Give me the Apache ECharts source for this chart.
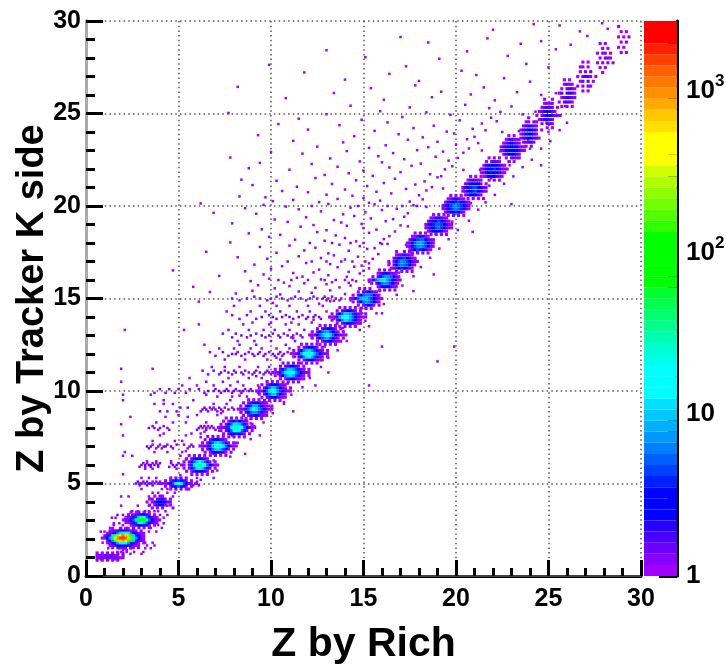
<!DOCTYPE html>
<html><head><meta charset="utf-8">
<style>html,body{margin:0;background:#fff}#c{width:726px;height:669px;filter:blur(0.45px)}</style>
<script src="https://cdn.jsdelivr.net/npm/echarts@6/dist/echarts.min.js"></script></head>
<body><div id="c"></div>
<script>
const xTitle = "Z by Rich";
const yTitle = "Z by Tracker K side";
const paletteBands = ["#a000ff","#8800ff","#6c00ff","#4800ff","#2800ff","#0000ff","#0000ff","#0000ff","#0020ff","#0040ff",
"#0060ff","#0080ff","#0098ff","#00b0ff","#00c8ff","#00e0ff","#00ffff","#00ffff","#00ffff","#00ffe8",
"#00ffd0","#00ffb0","#00ff90","#00ff70","#00ff50","#00ff30","#00ff00","#00ff00","#00ff00","#00ff00",
"#00ff00","#30ff00","#50ff00","#70ff00","#90ff00","#b0ff00","#d0ff00","#ffff00","#ffff00","#ffff00",
"#ffe000","#ffc800","#ffaa00","#ff9000","#ff7800","#ff6000","#ff4000","#ff2000","#ff0000","#ff0000"];
const colorMajorTicks = [1,10,100,1000];
const colorMinorTicks = [2,3,4,5,6,7,8,9,20,30,40,50,60,70,80,90,200,300,400,500,600,700,800,900,2000];
const levelChars = "123456789abcdefghijklmnopqrstuvwxyzABCDEFGHIJKLMNO";

// Peak centres on the diagonal
const peakX = [1.3,2,3,4,5,6,7,8,9,10,11,12,13,14,15,16,17,18,19,20,21,22,23,24,25,26,27,28,29];
const peakY = [1.05,2.05,3.03,4,5,6,7.03,8.03,9.02,10,11,12.02,13.03,14,15,16,17,18,19,20.03,21,22,23.1,24,25,26.1,27,28,29];
// Vertical bin height of each peak's cells
const peakBinY = [.13,.13,.14,.16,.15,.17,.17,.17,.17,.17,.17,.17,.17,.17,.18,.18,.18,.18,.18,.18,.2,.2,.2,.22,.22,.24,.26,.26,.28];
// Density cells for each peak (0.14 unit wide bins), one level character per cell, "." is empty
const peakCells = [
["1.1.2.1.1.1","121322312.2","12324323211","1.1.1.1.1.."],
["....1..2.11.2....","...12244543221.1.","..1248cgiihc74211",".149gnyFJFzqg9521","127dqCILLKGxnd731","..16cnzFHEwpf9421","..1259ejjid8531.1","...124688764211..","....1.3221.21.1.."],
["...1.12.2.1....","..1.1347642.1..",".1136aghhb6321.","1236bnrssnb6321",".1136aghfa6421.","...12457542.1..","....1.2.2.1...."],
["...1.21....",".12.3442.1.","1.14788632.",".1.24652.1.","..1.1.2...1"],
["....1.2.3.1....","..1.246a742.1..","1.136bhkhb631.1","..1.258b852.1..","....1.3.2.11..."],
[".....1.1.2.1.....","....1.3578531....","...1.27bfhfb52.1.","..11.39gknlhb6311","...1.26bghfa53.1.","....1.2468642.1..","......1.2.1.1...."],
[".....1.2.1.1.....","....1.3578431....","...1.37bfgeb52.1.","..11249fjkigb6311","...1.36bfgda52.1.","....1.2578541.1..","......1.2.1.1...."],
[".....1.2.1.1.....","....1.246a7431...","...1.37bggfb52.1.","..12249gkmkhb6311","...1.37bhihb52.1.","....1.3689641.1..","......1.2.1.1...."],
["......1.1.1.....","....1.24675321..","...1.36aeea531.1","..1229bfhgca6311","...1.37bdca531..","....1.24564211..",".....1.1.2.1...."],
["......1.1.1.....","....1.24775321..","...1.37bfea631.1","..1228bgihda6311","...1.37bffa631..","....1.34674211..",".....1.1.2.1...."],
["......1.2.1.1.....",".....1.346742.1...","...1.37bffda531.1.","..1129cgjjhda7421.","...1.38cfgea531.1.",".....1.24664211...","......1.2.1.1....."],
["......1.2.1.1.....",".....1.346742.1...","...1.37cfgda531.1.","..1129dhkljeb7421.","...1.38cghea531.1.",".....1.24674211...","......1.2.1.1....."],
["......1.2.1.1.....",".....1.346742.1...","...1.27bdea731.1..","..1128beghfb84211.","...1.27adea731.1..",".....1.24574211...","......1.2.1.1....."],
["......1.2.1.1....",".....1.346742.1..","...1.37bffda531.1","..1129dhjjeb74211","...1.38cgfda531..",".....1.24674211..","......1.2.1.1...."],
["......1.2.1.....",".....1.346421..","...1.37accb631.","..129beffca7421","...1.38bdca631.",".....1.24642.1.","......1.2.1...."],
["......1.2.1....",".....13564231.","...1.38bddb731","..129cfggdb7421","...1.37bdca631.",".....14676421.","......1.1.2.1.."],
[".....1..2.1...",".....1234321..","....2479a7521.","..1.37bdca7421","..1.38bcba631.","...124796531..",".....1.2.1.1.."],
[".....1.2.1....","....1245421...","...247abb7421.","..137bdeca742.","..136acdca631.","...246a97421..","....1.2.2.1..."],
[".....1.2.1....","....1245321...","...2578a8521..","..1469bba7421.","..1368ab96321.","...14687521...","....1.2.1.1..."],
["....1.2.1....","...1245321...","..25789a7531.",".147acdba642.",".1369bcb9531.","..14689741...","...1.2.2.1..."],
["....1.1.1...","...134321...","..2467862.1.",".1469aa7532.",".13689a8421.","..1467632...","...1.2.1.1.."],
["....1.1.1...","...1.3431...","..146786421.",".13678975321",".1367887421.","..13676421..","....1.2.1..."],
["....1.1....","...134221..","..1356431..",".1467876321",".1367886421","..1467642..","...1.3321..","....1.1...."],
["....1.....","...12.21..","..145431..",".1456652.1",".1367741..",".14566431.","..13442...","...1.2...."],
["...1..1...","...1221...","..13442.1.",".1356531..","1.24664321",".135542...","..1.331...","....1.1..."],
["...1.1...","...2321..","..1.3431.",".14.4541.","..135432.",".1.3431..","..1.2.1.."],
["...1.1...","..12.1...","..1.2.3..",".1.3432.1","..13.3.1.",".1.2.31..","...1.1..."],
["..1.1...","...2.1..",".1.22.1.","..1.321.",".1.2.2.1","..1.1...","...1...."],
["..1.....","...1.1..","..1.1.2.","...1.2..","..1.1...","...1.1.."]
];
// Horizontal streaks, each row: y, level, then the x values of the cells in that row
const streakRows = [
[1.3,1,1.7,2.2,2.6,3.1,1.9],[1.5,1,1.2,1.8,2.1,2.4,3.2,3.5],[1.4,2,2.0,2.2],[1.65,1,1.3,2.7,3.3,3.7],[0.9,1,0.8,1.2,1.6],[2.6,1,3.5,4.1,1.3,1.9,2.2],[2.75,1,1.5,2.0,2.5,3.9],[1.8,1,0.9,3.2,3.6],[1.2,1,2.4,3.0],[2.4,1,0.8,1.0,3.4,3.8],
[3.5,1,3.2,3.4,3.7,3.9,4.3,2.5,2.8],[3.3,2,1.7,2.0,2.3,2.5,4.0,4.4],[3.15,1,1.4,1.6,4.2],[2.85,1,1.5,1.8,3.8,4.2],[3.8,1,2.8,3.4,4.4,1.9],[4.3,1,1.9,2.3,3.4,4.7],[4.5,1,3.6,3.9,4.4,4.8],
[5.0,3,2.7,2.9,3.0,3.2,3.4,3.5,3.7,3.9,4.1,4.2,5.9],[5.1,2,2.8,3.1,3.3,3.6,3.8,4.0,6.0],[4.9,2,2.9,3.3,3.6,4.3,5.8,6.1],[5.3,1,3.0,3.4,3.8,6.0],[4.7,1,3.0,4.1,4.4],[5.5,1,2.0],
[6.0,3,3.0,3.2,3.4,3.5,3.7,3.9,4.7,4.9],[6.1,2,3.1,3.3,3.6,3.8,4.0,4.6,5.0],[5.9,2,2.9,3.2,3.5,3.9,4.5,4.8],[6.2,1,3.3,3.8,4.6],[5.8,1,3.2,3.6,4.9],[6.5,1,2.0,2.5,5.1],
[7.0,3,3.3,3.5,3.9,4.2,4.3,4.6,5.6,5.8],[7.1,2,3.6,4.0,4.4,4.9,5.3,5.7],[6.9,2,3.4,3.8,4.1,4.7,5.5],[7.3,1,3.6,4.8,5.2],[6.7,1,2.1,3.7,4.4,5.2],[7.6,1,2.0,4.0,5.4],
[8.0,2,3.4,3.7,4.0,4.4,6.1,6.3,6.5,6.7,6.9],[8.1,2,3.6,4.2,6.2,6.4,6.6,6.8],[7.9,2,3.9,4.5,6.0,6.5,7.0],[8.3,1,3.8,4.7,5.4,6.5],[7.7,1,4.2,5.7,6.2],[8.2,1,1.9],[8.6,1,2.4,4.3,5.5],[6.3,1,5.4],
[9.0,3,6.3,6.5,6.8,7.0,7.3,7.7,8.0],[9.1,2,5.1,5.5,6.4,6.7,6.9,7.2,7.5,7.9],[8.9,2,4.0,4.4,4.9,6.2,6.6,7.1,7.4],[9.3,1,3.7,4.2,4.7,6.9,7.6],[8.7,1,5.0,6.0,7.1],[9.5,1,2.0,4.2,5.8,7.8],[9.8,1,2.0,3.5,6.5],
[10.0,3,6.6,6.9,7.2,7.5,7.7,8.0,8.3,8.5,8.8,9.0],[10.1,2,4.0,4.5,5.0,5.6,6.1,7.0,7.6,8.1,8.6,8.9],[9.9,2,3.7,4.3,4.8,5.4,6.4,7.3,7.9,8.4],[10.3,1,5.2,6.0,6.9,7.8,8.5,9.3],[9.7,1,7.1,7.9,8.7],[10.5,1,1.9,6.5,7.4,8.2],
[11.0,3,7.3,7.7,8.1,8.4,8.8,9.1,9.4,9.7,9.9],[11.1,2,6.3,6.9,7.5,8.0,8.6,9.2,9.8],[10.9,2,6.6,7.2,7.9,8.5,9.0,9.6,10.0],[11.3,1,6.8,7.5,8.3,9.3,9.9],[10.7,1,5.6,7.7,8.8,9.5],[11.2,1,1.9,3.6],
[12.0,3,7.9,8.1,8.6,9.0,9.3,9.7,10.1,10.4,10.7],[12.1,2,6.7,7.4,8.2,8.8,9.4,9.9,10.5,10.9],[11.9,2,7.0,7.7,8.4,9.1,9.6,10.2,10.6],[12.3,1,7.2,8.0,8.9,9.5,10.3,11.0],[11.7,1,7.5,8.6,9.8,10.5],[12.5,1,6.4,8.3,9.2,10.8],
[13.0,3,8.4,8.9,9.5,9.9,10.4,10.9,11.2,11.6],[13.1,2,7.4,8.1,9.2,10.1,10.7,11.4],[12.9,2,7.9,8.7,9.7,10.5,11.1,11.7],[13.3,1,2.1,5.3,7.7,8.8,9.6,10.2,11.0,11.8],[12.7,1,8.2,9.1,10.0,11.3],[13.6,1,6.1,8.5,9.9,10.8,11.5],
[14.0,3,9.5,10.1,10.6,11.0,11.5,12.0,12.3,12.6],[14.1,2,7.9,8.7,9.9,10.8,11.7,12.4],[13.9,2,8.3,9.2,10.3,11.2,11.9,12.7],[14.3,1,7.6,8.9,9.7,10.5,11.4,12.1,13.0],[13.7,1,9.0,10.0,11.1,12.2],[14.6,1,8.0,9.4,10.3,11.0,12.0,12.8],
[15.0,2,7.9,8.7,9.4,10.0,10.6,11.1,11.6,12.1,12.5,12.8,13.1,13.5,13.8],[15.1,2,9.1,10.3,11.3,12.3,12.9,13.3],[14.9,1,8.3,9.8,10.9,11.9,13.0,13.7],[16.0,2,10.4,11.1,12.0,12.9,13.5,14.0,14.4],[17.0,2,10.9,12.2,13.0,13.8,14.4,15.1],[18.0,2,12.1,13.3,14.3,15.0,15.9],[20.0,2,12.2,14.7,16.3,17.1,17.9]
];
// Single cells of the fan above the diagonal and strays below it: x, y pairs
const fanPoints = [
6.7,15.35, 8.1,15.27, 9.0,15.42, 10.5,15.22, 11.5,15.38, 12.2,15.31, 13.2,15.44, 14.0,15.24, 6.1,14.83, 10.1,14.76, 12.6,14.72, 13.4,14.88,
5.8,15.63, 9.3,15.72, 10.2,15.55, 11.0,15.67, 11.8,15.82, 12.4,15.58, 13.0,15.77, 13.7,15.6, 14.3,15.7, 8.9,15.94, 9.9,16.07, 10.7,15.86, 11.4,16.12, 12.7,16.03, 13.3,15.88, 14.1,16.17, 14.6,15.93,
7.2,16.22, 9.6,16.3, 11.7,16.18, 12.3,16.41, 13.1,16.26, 14.2,16.44, 14.8,16.35, 4.7,16.52, 8.6,16.47, 10.0,16.61, 11.2,16.38, 12.6,16.56, 13.6,16.69, 14.5,16.72, 15.0,16.5, 15.3,16.63,
9.1,16.83, 10.6,16.75, 11.9,16.92, 13.2,16.86, 14.0,17.11, 14.9,16.78, 8.2,17.23, 9.8,17.15, 11.5,17.28, 12.7,17.19, 13.4,17.33, 14.7,17.26, 15.5,17.14, 15.8,17.4, 6.5,17.52, 10.3,17.47, 11.8,17.6, 13.1,17.44,
14.2,17.58, 15.2,17.68, 9.4,17.79, 11.0,17.86, 12.4,17.74, 13.7,17.91, 14.8,17.83, 15.6,17.72, 16.0,17.95, 7.8,18.03, 11.3,18.18, 12.9,18.12, 14.0,18.27, 14.6,18.09, 16.1,18.21, 16.4,18.37,
9.9,18.33, 8.8,18.52, 10.5,18.44, 12.5,18.59, 13.5,18.41, 15.3,18.55, 16.7,18.62, 9.5,18.74, 11.6,18.88, 13.0,18.69, 14.1,18.93, 15.0,18.81, 15.7,18.72, 7.9,19.06, 10.9,19.14, 12.3,18.97, 13.8,19.11, 14.9,19.03, 16.2,19.18, 17.0,18.95,
10.2,19.27, 11.9,19.39, 13.4,19.24, 14.5,19.46, 15.4,19.33, 16.6,19.29, 17.2,19.42, 6.9,19.63, 9.2,19.58, 12.7,19.71, 13.9,19.55, 15.1,19.66, 16.0,19.78, 17.4,19.61, 8.6,19.88, 10.8,19.97, 11.5,19.82, 14.3,19.91, 15.6,20.09, 16.8,19.85, 17.7,20.04,
6.2,20.14, 9.6,20.06, 13.1,20.11, 15.3,20.17, 10.1,20.26, 11.2,20.33, 12.6,20.21, 13.6,20.38, 15.9,20.29, 17.5,20.24, 18.2,20.36, 8.3,20.52, 9.7,20.47, 13.0,20.61, 14.4,20.55, 15.0,20.43, 16.5,20.68, 18.0,20.58,
10.6,20.81, 12.0,20.74, 14.0,20.89, 15.7,20.77, 17.3,20.92, 18.4,20.84, 9.0,21.13, 11.4,21.04, 13.3,21.19, 15.2,21.08, 16.1,21.24, 17.8,21.16, 18.7,21.02, 8.4,21.42, 10.3,21.36, 12.4,21.51, 14.6,21.39, 16.7,21.47, 18.3,21.33, 19.0,21.55,
12.9,21.68, 14.2,21.77, 15.5,21.63, 17.0,21.83, 18.6,21.72, 19.2,21.61, 8.8,22.04, 11.0,21.96, 13.6,22.12, 15.0,21.91, 16.4,22.08, 17.6,22.17, 19.4,21.98, 19.8,22.15, 9.4,22.33, 12.2,22.27, 14.8,22.41, 16.0,22.36, 18.1,22.29, 19.6,22.45,
7.8,22.62, 13.2,22.57, 15.8,22.69, 17.2,22.53, 18.9,22.66, 20.1,22.6, 10.0,22.91, 11.7,22.83, 14.1,22.97, 16.6,22.86, 17.9,23.02, 19.3,22.94, 20.4,22.88, 12.5,23.21, 15.3,23.14, 16.2,23.28, 18.5,23.18, 20.0,23.31, 20.7,23.11,
11.2,23.52, 13.9,23.44, 17.4,23.58, 19.0,23.47, 20.6,23.61, 21.2,23.4, 9.3,23.83, 14.5,23.77, 16.9,23.88, 18.2,23.71, 19.9,23.92, 21.0,23.74, 12.0,24.13, 15.6,24.06, 17.7,24.21, 19.5,24.02, 20.9,24.17, 21.6,24.09,
10.4,24.43, 13.7,24.37, 16.3,24.52, 18.8,24.34, 21.4,24.46, 11.5,24.72, 14.9,24.66, 17.1,24.81, 20.2,24.63, 21.9,24.77, 22.2,24.58, 7.7,25.03, 13.0,24.96, 15.9,25.12, 18.4,25.06, 19.7,24.93, 22.4,25.09,
14.3,25.42, 17.5,25.33, 20.5,25.47, 21.8,25.29, 23.0,25.38, 10.8,25.83, 16.1,25.74, 18.7,25.88, 22.1,25.71, 13.4,26.11, 19.2,26.18, 20.8,26.03, 23.3,26.15, 8.2,26.44, 15.4,26.37, 17.8,26.52, 21.5,26.41,
14.0,26.83, 18.0,26.76, 22.6,26.91, 24.0,26.72, 11.8,27.22, 16.4,27.14, 20.3,27.31, 21.1,27.08, 9.9,27.63, 17.3,27.55, 23.8,27.68, 25.0,27.49, 15.1,28.04, 19.1,27.96, 22.8,28.11, 13.0,28.42, 20.6,28.36, 25.4,28.47,
18.5,28.84, 23.5,28.77, 24.6,28.91, 26.2,28.72, 17.0,29.13, 21.7,29.06, 27.1,29.19, 22.0,29.53, 26.7,29.44, 28.2,29.58, 24.2,29.83, 25.6,29.76, 27.9,29.88,
16.0,14.2, 16.0,12.4, 19.9,12.4, 19.0,11.6, 15.3,13.5, 13.1,11.0, 15.3,10.3, 12.4,10.3, 18.8,16.3, 20.9,18.6, 11.2,8.9, 17.7,15.4, 23.0,20.1, 24.6,22.2, 10.7,9.4, 9.4,7.6, 8.6,6.6
];
// Loose halo cells around the peaks: x, y pairs
const haloPoints = [
5.4,6.75, 6.3,6.8, 6.9,6.6, 5.1,5.45, 6.9,5.3, 7.1,5.7, 6.2,5.2,
6.4,7.8, 7.2,7.85, 7.9,7.6, 8.1,7.2, 6.2,7.5, 7.8,6.45, 6.9,6.25,
7.3,8.8, 8.4,8.85, 8.9,8.5, 9.1,8.1, 8.9,7.4, 8.2,7.2, 7.4,7.4,
8.3,9.75, 9.3,9.9, 9.9,9.5, 10.1,8.8, 9.6,8.3, 8.9,8.25,
9.2,10.8, 10.4,10.9, 10.9,10.4, 11.1,9.8, 10.7,9.3, 9.9,9.2,
10.3,11.8, 11.3,11.85, 11.9,11.5, 12.1,10.7, 11.7,10.2, 10.8,10.1,
11.2,12.85, 12.2,12.9, 12.9,12.4, 13.1,11.8, 12.7,11.3, 11.8,11.2,
12.3,13.85, 13.4,13.9, 13.9,13.4, 14.1,12.7, 13.6,12.2, 12.8,12.2,
13.2,14.85, 14.3,14.9, 14.9,14.5, 15.1,13.8, 14.8,13.3, 13.9,13.2,
14.2,15.85, 15.3,15.9, 15.9,15.4, 16.1,14.7, 15.7,14.2, 14.9,14.2,
15.3,16.9, 16.4,16.9, 16.9,16.4, 17.1,15.7, 16.8,15.2, 15.8,15.15,
16.3,17.95, 17.3,17.9, 17.9,17.5, 18.1,16.7, 17.7,16.2, 16.8,16.15,
17.4,18.9, 18.4,18.95, 18.9,18.5, 19.1,17.7, 18.6,17.2, 17.8,17.15,
18.4,19.95, 19.3,19.9, 19.9,19.5, 20.1,18.7, 19.6,18.2, 18.8,18.15,
19.3,20.95, 20.4,20.95, 21.0,20.6, 21.2,19.8, 20.7,19.2, 19.8,19.15,
20.4,21.95, 21.3,21.95, 21.9,21.5, 22.1,20.6, 21.6,20.2, 20.8,20.15,
21.4,23.0, 22.4,22.95, 22.9,22.4, 23.1,21.6, 22.6,21.2, 21.8,21.1,
22.5,24.0, 23.4,24.05, 23.9,23.6, 24.1,22.5, 23.6,22.1, 22.9,22.2,
23.6,24.95, 24.3,25.1, 24.9,24.5, 25.1,23.5, 24.6,23.1, 24.0,23.1,
24.6,26.0, 25.4,26.1, 25.9,25.4, 26.0,24.5, 25.6,24.1, 25.0,24.0
];

const peakData = [];
peakCells.forEach((rows, p) => rows.forEach((row, r) => {
  for (let c = 0; c < row.length; c++) {
    const lv = levelChars.indexOf(row[c]);
    if (lv < 0) continue;
    peakData.push([peakX[p] + (c - (row.length - 1) / 2) * 0.14, peakY[p] + ((rows.length - 1) / 2 - r) * peakBinY[p], lv]);
  }
}));
peakData.sort((a, b) => a[2] - b[2]);
const speckleData = [];
streakRows.forEach(row => { for (let i = 2; i < row.length; i++) speckleData.push([row[i], row[0], row[1] - 1]); });
for (let i = 0; i < fanPoints.length; i += 2) speckleData.push([fanPoints[i], fanPoints[i + 1], 0]);
for (let i = 0; i < haloPoints.length; i += 2) speckleData.push([haloPoints[i], haloPoints[i + 1], 0]);

const font = "'Liberation Sans', Arial, sans-serif";
const bandIdx = paletteBands.map((_, i) => i);
const cellColor = p => paletteBands[p.value[2]];
const frameNone = { axisTick:{show:false}, axisLabel:{show:false}, splitLine:{show:false} };
const major = {color:"#000", width:3};
const dotted = {color:"#555",type:[1.5,3.2],width:1.5};
const option = {
  animation:false,
  backgroundColor:"#fff",
  textStyle:{fontFamily:font},
  grid:[{left:86,right:85,top:21,bottom:93,outerBoundsMode:"none"},{left:644,right:49,top:21,bottom:93,outerBoundsMode:"none"}],
  xAxis:[
    {gridIndex:0,type:"value",min:0,max:30,interval:5,name:xTitle,nameLocation:"middle",nameGap:48,nameMoveOverlap:false,
     nameTextStyle:{fontFamily:font,fontSize:41,fontWeight:"bold",color:"#000"},
     axisLine:{lineStyle:{color:"#000",width:3}},
     axisTick:{inside:true,length:16,lineStyle:major},
     minorTick:{show:true,splitNumber:5,length:8,lineStyle:major},
     axisLabel:{fontFamily:font,fontSize:25,fontWeight:"bold",color:"#000",margin:11,showMinLabel:true,showMaxLabel:true},
     splitLine:{show:true,lineStyle:dotted}},
    Object.assign({gridIndex:0,type:"value",min:0,max:30,position:"top",axisLine:{show:true,lineStyle:{color:"#444",width:2}}},frameNone),
    {gridIndex:1,type:"value",min:0,max:1,show:false}
  ],
  yAxis:[
    {gridIndex:0,type:"value",min:0,max:30,interval:5,name:yTitle,nameLocation:"middle",nameGap:34,nameRotate:90,nameMoveOverlap:false,
     nameTextStyle:{fontFamily:font,fontSize:38,fontWeight:"bold",color:"#000"},
     axisLine:{lineStyle:{color:"#000",width:3}},
     axisTick:{inside:true,length:17,lineStyle:major},
     minorTick:{show:true,splitNumber:5,length:9,lineStyle:major},
     axisLabel:{fontFamily:font,fontSize:25,fontWeight:"bold",color:"#000",margin:5,showMinLabel:true,showMaxLabel:true},
     splitLine:{show:true,lineStyle:dotted}},
    Object.assign({gridIndex:0,type:"value",min:0,max:30,position:"right",axisLine:{show:true,lineStyle:{color:"#aaa",width:3}}},frameNone),
    {gridIndex:1,type:"category",data:bandIdx,show:false},
    {gridIndex:1,type:"log",min:1,max:2700,position:"right",
     axisLine:{show:true,lineStyle:{color:"#000",width:3}},
     axisTick:{inside:true,length:18,lineStyle:major,customValues:colorMajorTicks},
     axisLabel:{customValues:colorMajorTicks,margin:9,fontFamily:font,fontSize:26,fontWeight:"bold",color:"#000",
       formatter:v=>{const e=Math.round(Math.log10(v));return e<2?String(v):"{b|10}{s|"+e+"}";},
       rich:{b:{fontFamily:font,fontSize:26,fontWeight:"bold",color:"#000"},s:{fontFamily:font,fontSize:17,fontWeight:"bold",color:"#000",padding:[0,0,18,0]}}},
     splitLine:{show:false}},
    {gridIndex:1,type:"log",min:1,max:2700,position:"right",axisLine:{show:false},
     axisTick:{inside:true,length:9,lineStyle:major,customValues:colorMinorTicks},
     axisLabel:{show:false},splitLine:{show:false}}
  ],
  series:[
    {type:"scatter",xAxisIndex:0,yAxisIndex:0,symbol:"rect",symbolSize:2.5,data:speckleData,itemStyle:{color:cellColor,opacity:1},silent:true,z:3},
    {type:"scatter",xAxisIndex:0,yAxisIndex:0,symbol:"rect",symbolSize:3.1,data:peakData,itemStyle:{color:cellColor,opacity:1},silent:true,z:4},
    {type:"bar",xAxisIndex:2,yAxisIndex:2,barWidth:"100%",silent:true,
     data:bandIdx.map(i=>({value:1,itemStyle:{color:paletteBands[i]}}))}
  ]
};
echarts.init(document.getElementById("c"),null,{renderer:"canvas"}).setOption(option);
</script></body></html>
